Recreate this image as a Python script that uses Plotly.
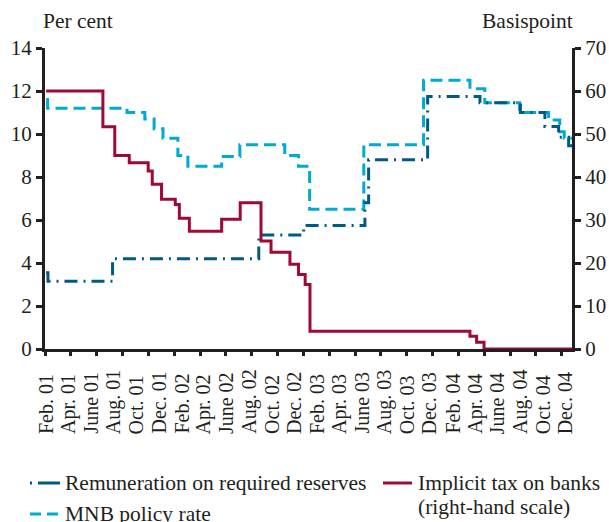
import plotly.graph_objects as go

# ---- data ----
remun_dates = ["2001-02-01", "2001-02-06", "2001-07-30", "2002-08-28", "2002-12-27",
               "2003-06-10", "2003-06-20", "2003-11-26", "2004-04-15", "2004-08-02",
               "2004-10-07", "2004-11-13", "2004-12-10", "2004-12-19"]
remun_vals = [3.55, 3.15, 4.2, 5.3, 5.75, 6.8, 8.8, 11.75, 11.45, 11.0, 10.35, 9.85, 9.45, 9.45]

policy_dates = ["2001-02-01", "2001-02-05", "2001-09-07", "2001-10-25", "2001-11-19",
                "2001-12-13", "2002-01-22", "2002-02-18", "2002-05-20", "2002-07-08",
                "2002-11-06", "2002-12-13", "2003-01-12", "2003-06-07", "2003-11-15",
                "2004-03-19", "2004-04-28", "2004-07-31", "2004-10-17", "2004-11-16",
                "2004-11-28", "2004-12-19"]
policy_vals = [11.6, 11.2, 11.0, 10.7, 10.25, 9.8, 9.0, 8.5, 8.95, 9.5, 9.0, 8.5, 6.5,
               9.5, 12.5, 12.1, 11.45, 11.0, 10.65, 10.1, 9.8, 9.8]

tax_dates = ["2001-02-01", "2001-07-04", "2001-08-05", "2001-09-13", "2001-11-03",
             "2001-11-14", "2001-12-09", "2002-01-15", "2002-01-26", "2002-02-22",
             "2002-05-20", "2002-07-09", "2002-09-03", "2002-09-30", "2002-11-20",
             "2002-12-13", "2002-12-31", "2003-01-13", "2004-03-19", "2004-04-06",
             "2004-04-26", "2004-12-19"]
tax_vals = [60, 51.7, 45.0, 43.3, 41.4, 38.3, 34.8, 33.6, 30.4, 27.4, 30.2, 34.0, 25.1,
            22.5, 19.7, 17.3, 15.0, 4.1, 2.95, 1.55, 0, 0]

label_dates = ["2001-02-01", "2001-04-01", "2001-06-01", "2001-08-01", "2001-10-01", "2001-12-01",
               "2002-02-01", "2002-04-01", "2002-06-01", "2002-08-01", "2002-10-01", "2002-12-01",
               "2003-02-01", "2003-04-01", "2003-06-01", "2003-08-01", "2003-10-01", "2003-12-01",
               "2004-02-01", "2004-04-01", "2004-06-01", "2004-08-01", "2004-10-01", "2004-12-01"]
label_texts = ["Feb. 01", "Apr. 01", "June 01", "Aug. 01", "Oct. 01", "Dec. 01",
               "Feb. 02", "Apr. 02", "June 02", "Aug. 02", "Oct. 02", "Dec. 02",
               "Feb. 03", "Apr. 03", "June 03", "Aug. 03", "Oct. 03", "Dec. 03",
               "Feb. 04", "Apr. 04", "June 04", "Aug. 04", "Oct. 04", "Dec. 04"]

left_ticks = [0, 2, 4, 6, 8, 10, 12, 14]
right_ticks = [0, 10, 20, 30, 40, 50, 60, 70]
n_tick_marks = 21

name_remun = "Remuneration on required reserves"
name_policy = "MNB policy rate"
name_tax_lines = ["Implicit tax on banks", "(right-hand scale)"]

FONT = "Liberation Serif"
INK = "#231f20"
DARK = "#005a86"
LIGHT = "#00aad2"
RED = "#9e0a34"
DASH_POLICY = "12px,6px"
DASH_REMUN = "13px,6px,2px,6px"

W, H = 609, 522
L, R, T, B = 45, 37, 48, 173
PW, PH = W - L - R, H - T - B


def px(xp):  # figure pixel -> paper x
    return (xp - L) / PW


def py(yp):  # figure pixel -> paper y
    return (H - B - yp) / PH


fig = go.Figure()
fig.add_trace(go.Scatter(x=policy_dates, y=policy_vals, mode="lines", line_shape="hv",
                         name=name_policy, showlegend=False,
                         line=dict(color=LIGHT, width=3, dash=DASH_POLICY)))
fig.add_trace(go.Scatter(x=remun_dates, y=remun_vals, mode="lines", line_shape="hv",
                         name=name_remun, showlegend=False,
                         line=dict(color=DARK, width=3, dash=DASH_REMUN)))
fig.add_trace(go.Scatter(x=tax_dates, y=tax_vals, mode="lines", line_shape="hv", yaxis="y2",
                         name=" ".join(name_tax_lines), showlegend=False,
                         line=dict(color=RED, width=3)))
# invisible helper trace for the evenly spaced tick-mark axis
fig.add_trace(go.Scatter(x=[], y=[], xaxis="x2", showlegend=False, hoverinfo="skip"))

annotations = []
for d, t in zip(label_dates, label_texts):
    annotations.append(dict(x=d, y=py(436), xref="x", yref="paper", text=t, showarrow=False,
                            textangle=-90, xanchor="center", yanchor="bottom",
                            font=dict(family=FONT, size=20, color=INK)))
annotations.append(dict(x=px(41), y=py(21), xref="paper", yref="paper", text="Per cent",
                        showarrow=False, xanchor="left", yanchor="middle",
                        font=dict(family=FONT, size=21.5, color=INK)))
annotations.append(dict(x=px(575), y=py(21), xref="paper", yref="paper", text="Basispoint",
                        showarrow=False, xanchor="right", yanchor="middle",
                        font=dict(family=FONT, size=21.5, color=INK)))

# ---- manual legend ----
leg_font = dict(family=FONT, size=21.5, color=INK)
annotations.append(dict(x=px(63), y=py(483), xref="paper", yref="paper", text=name_remun,
                        showarrow=False, xanchor="left", yanchor="middle", font=leg_font))
annotations.append(dict(x=px(63), y=py(514), xref="paper", yref="paper", text=name_policy,
                        showarrow=False, xanchor="left", yanchor="middle", font=leg_font))
for line_text, yline in zip(name_tax_lines, [483, 507]):
    annotations.append(dict(x=px(416), y=py(yline), xref="paper", yref="paper", text=line_text,
                            showarrow=False, xanchor="left", yanchor="middle", font=leg_font))
shapes = [
    dict(type="line", xref="paper", yref="paper", x0=px(30), x1=px(60), y0=py(483), y1=py(483),
         line=dict(color=DARK, width=3, dash="2px,6px,22px")),
    dict(type="line", xref="paper", yref="paper", x0=px(30), x1=px(58), y0=py(514), y1=py(514),
         line=dict(color=LIGHT, width=3, dash="11px,6px")),
    dict(type="line", xref="paper", yref="paper", x0=px(383), x1=px(412), y0=py(483), y1=py(483),
         line=dict(color=RED, width=3)),
]

fig.update_layout(
    width=W, height=H,
    margin=dict(l=L, r=R, t=T, b=B),
    paper_bgcolor="white", plot_bgcolor="white",
    font=dict(family=FONT, size=20, color=INK),
    showlegend=False,
    xaxis=dict(type="date", range=["2001-01-29", "2004-12-19"], showticklabels=False,
               ticks="", showgrid=False, zeroline=False, showline=True,
               linecolor=INK, linewidth=3, automargin=False),
    xaxis2=dict(overlaying="x", anchor="y", range=[0, 20.4],
                tickvals=list(range(n_tick_marks)), ticks="outside", ticklen=6,
                tickwidth=2.5, tickcolor=INK, showticklabels=False, showgrid=False,
                zeroline=False, showline=False, automargin=False),
    yaxis=dict(range=[0, 14], tickvals=left_ticks, ticks="outside", ticklen=6,
               tickwidth=2.5, tickcolor=INK, showgrid=False, zeroline=False,
               showline=True, linecolor=INK, linewidth=3, automargin=False,
               tickfont=dict(family=FONT, size=21, color=INK)),
    yaxis2=dict(range=[0, 70], tickvals=right_ticks, overlaying="y", side="right",
                ticks="outside", ticklen=6, tickwidth=2.5, tickcolor=INK, showgrid=False,
                zeroline=False, showline=True, linecolor=INK, linewidth=3, automargin=False,
                tickfont=dict(family=FONT, size=21, color=INK)),
    annotations=annotations,
    shapes=shapes,
)

fig.write_html("out.html", config={"displayModeBar": False},
               post_script="document.body.style.margin='0';document.body.style.overflow='hidden';")
